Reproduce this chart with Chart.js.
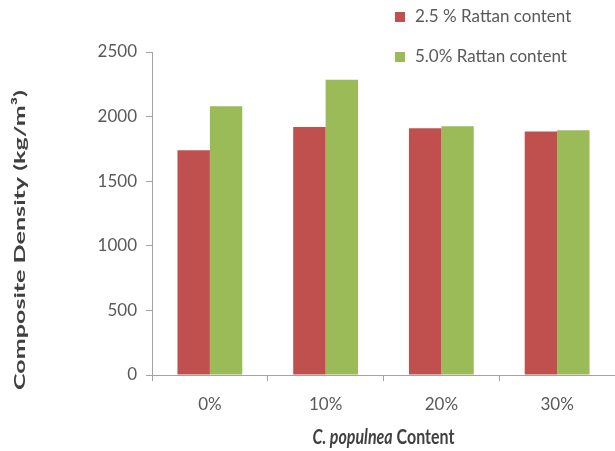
<!DOCTYPE html>
<html>
<head>
<meta charset="utf-8">
<script src="https://cdn.jsdelivr.net/npm/chart.js@4.4.0/dist/chart.umd.min.js"></script>
<style>
  html, body { margin: 0; padding: 0; background: #fff; }
  #wrap { width: 615px; height: 451px; position: relative; }
</style>
</head>
<body>
<div id="wrap"><canvas id="densidade"></canvas></div>
<script>
// valores
var categorias = ['0%', '10%', '20%', '30%'];
var rotulosSeries = ['2.5 % Rattan content', '5.0% Rattan content'];
var rattan25 = [1740, 1920, 1910, 1885];
var rattan50 = [2080, 2285, 1925, 1895];
var ticksY = [0, 500, 1000, 1500, 2000, 2500];

var corVermelha = '#c0504d';
var corVerde = '#9bbb59';
var corTexto = '#595959';
var corEixo = '#a3a3a3';
var fonte = 'Lato, "Open Sans", sans-serif';

var ctxDensidade = document.getElementById('densidade').getContext('2d');

// legenda e titulos dos eixos desenhados a mao
var textosExtras = {
    id: 'textosExtras',
    afterDraw: function(chart) {
        var ctx = chart.ctx;
        var area = chart.chartArea;
        ctx.save();

        // legenda no canto de cima
        ctx.font = '17px ' + fonte;
        ctx.textBaseline = 'middle';
        ctx.textAlign = 'left';
        chart.data.datasets.forEach(function(ds, i) {
            var y = 17 + i * 40;
            ctx.fillStyle = ds.backgroundColor;
            ctx.fillRect(395, y - 5, 10, 10);
            ctx.fillStyle = corTexto;
            ctx.fillText(ds.label, 415, y);
        });

        // titulo eixo x, parte em italico
        var parte1 = 'C. populnea';
        var parte2 = ' Content';
        ctx.fillStyle = '#404040';
        ctx.font = 'italic bold 16px ' + fonte;
        var w1 = ctx.measureText(parte1).width;
        ctx.font = 'bold 16px ' + fonte;
        var w2 = ctx.measureText(parte2).width;
        var xIni = (area.left + area.right) / 2 - (w1 + w2) / 2;
        ctx.save();
        ctx.translate(0, 438);
        ctx.scale(1, 1.25);
        ctx.font = 'italic bold 16px ' + fonte;
        ctx.fillText(parte1, xIni, 0);
        ctx.font = 'bold 16px ' + fonte;
        ctx.fillText(parte2, xIni + w1, 0);
        ctx.restore();

        // titulo eixo y, esticado ao longo do eixo
        var tituloY = 'Composite Density (kg/m\u00b3)';
        ctx.translate(20, 240);
        ctx.rotate(-Math.PI / 2);
        ctx.font = 'bold 16px ' + fonte;
        ctx.textAlign = 'center';
        var wy = ctx.measureText(tituloY).width;
        ctx.scale(300 / wy, 1);
        ctx.fillText(tituloY, 0, 0);

        ctx.restore();
    }
};

var dataDensidade = {
    labels: categorias,
    datasets: [{
        label: rotulosSeries[0],
        data: rattan25,
        backgroundColor: corVermelha,
        categoryPercentage: 0.56,
        barPercentage: 1.0
    }, {
        label: rotulosSeries[1],
        data: rattan50,
        backgroundColor: corVerde,
        categoryPercentage: 0.56,
        barPercentage: 1.0
    }]
};

var optionsDensidade = {
    responsive: true,
    maintainAspectRatio: false,
    animation: false,
    layout: {
        padding: { top: 52, right: 0, left: 0, bottom: 0 }
    },
    scales: {
        y: {
            min: 0,
            max: 2500,
            afterFit: function(scale) { scale.width = 152; },
            afterBuildTicks: function(scale) {
                scale.ticks = ticksY.map(function(v) { return { value: v }; });
            },
            border: { display: true, color: corEixo, width: 1 },
            grid: {
                drawOnChartArea: false,
                drawTicks: true,
                tickLength: 6,
                color: corEixo
            },
            ticks: {
                padding: 9,
                color: corTexto,
                font: { family: fonte, size: 17 },
                callback: function(valor) { return String(valor); } // sem separador de milhar
            }
        },
        x: {
            afterFit: function(scale) { scale.height = 76; },
            border: { display: true, color: corEixo, width: 1 },
            grid: {
                offset: true,
                drawOnChartArea: false,
                drawTicks: true,
                tickLength: 6,
                color: corEixo
            },
            ticks: {
                padding: 13,
                maxRotation: 0,
                color: corTexto,
                font: { family: fonte, size: 17 }
            }
        }
    },
    plugins: {
        legend: { display: false },
        tooltip: { enabled: false }
    }
};

var graficoDensidade = new Chart(ctxDensidade, {
    type: 'bar',
    data: dataDensidade,
    options: optionsDensidade,
    plugins: [textosExtras]
});
</script>
</body>
</html>
